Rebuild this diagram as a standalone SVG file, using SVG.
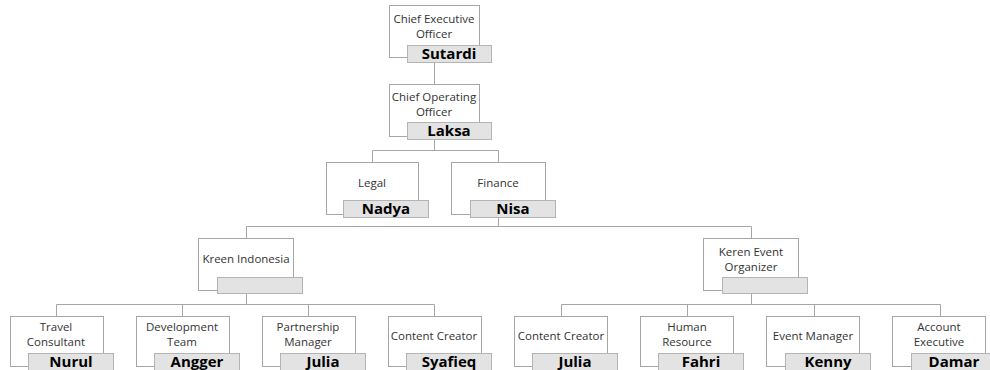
<svg xmlns="http://www.w3.org/2000/svg" width="990" height="370" viewBox="0 0 990 370">
<style>
.box{fill:#fff;stroke:#a6a6a6;stroke-width:1}
.bar{fill:#e3e3e3;stroke:#b4b4b4;stroke-width:1}
.t{font-family:"Open Sans","Liberation Sans",sans-serif;font-size:11.5px;fill:#333;text-anchor:middle}
.n{font-family:"Open Sans","Liberation Sans",sans-serif;font-size:15px;font-weight:bold;fill:#000;text-anchor:middle}
.c{fill:none;stroke:#a6a6a6;stroke-width:1}
</style>
<rect width="990" height="370" fill="#fff"/>
<g id="connectors">
<path class="c" d="M434.5 62V84"/>
<path class="c" d="M434.5 139V150.5M372.5 150.5H498.5M372.5 150.5V162M498.5 150.5V162"/>
<path class="c" d="M498.5 217V226.5M246.5 226.5H751.5M246.5 226.5V238M751.5 226.5V238"/>
<path class="c" d="M246.5 293V304.5M56.5 304.5H434.5M56.5 304.5V316M182.5 304.5V316M308.5 304.5V316M434.5 304.5V316"/>
<path class="c" d="M751.5 293V304.5M561.5 304.5H940.5M561.5 304.5V316M687.5 304.5V316M814.5 304.5V316M940.5 304.5V316"/>
</g>
<g id="ceo">
<rect class="box" x="389.5" y="5.5" width="90" height="52"/>
<rect class="bar" x="407.5" y="45.5" width="84" height="17"/>
<text class="t" x="434" y="23">Chief Executive</text>
<text class="t" x="434" y="38">Officer</text>
<text class="n" x="449" y="59">Sutardi</text>
</g>
<g id="coo">
<rect class="box" x="389.5" y="84.5" width="90" height="52"/>
<rect class="bar" x="407.5" y="122.5" width="84" height="17"/>
<text class="t" x="434" y="101">Chief Operating</text>
<text class="t" x="434" y="116">Officer</text>
<text class="n" x="449" y="136">Laksa</text>
</g>
<g id="legal">
<rect class="box" x="326.5" y="162.5" width="92" height="52"/>
<rect class="bar" x="343.5" y="200.5" width="85" height="17"/>
<text class="t" x="372" y="187">Legal</text>
<text class="n" x="386" y="214">Nadya</text>
</g>
<g id="finance">
<rect class="box" x="451.5" y="162.5" width="94" height="52"/>
<rect class="bar" x="470.5" y="200.5" width="85" height="17"/>
<text class="t" x="498" y="187">Finance</text>
<text class="n" x="513" y="214">Nisa</text>
</g>
<g id="kreen">
<rect class="box" x="198.5" y="238.5" width="95" height="52"/>
<rect class="bar" x="217.5" y="277.5" width="85" height="16"/>
<text class="t" x="246" y="263">Kreen Indonesia</text>
</g>
<g id="keren">
<rect class="box" x="703.5" y="238.5" width="95" height="52"/>
<rect class="bar" x="722.5" y="277.5" width="85" height="16"/>
<text class="t" x="751" y="256">Keren Event</text>
<text class="t" x="751" y="271">Organizer</text>
</g>
<g id="travel">
<rect class="box" x="10.5" y="316.5" width="93" height="50"/>
<rect class="bar" x="28.5" y="353.5" width="85" height="17"/>
<text class="t" x="56" y="331">Travel</text>
<text class="t" x="56" y="346">Consultant</text>
<text class="n" x="71" y="367">Nurul</text>
</g>
<g id="dev">
<rect class="box" x="136.5" y="316.5" width="93" height="50"/>
<rect class="bar" x="154.5" y="353.5" width="85" height="17"/>
<text class="t" x="182" y="331">Development</text>
<text class="t" x="182" y="346">Team</text>
<text class="n" x="197" y="367">Angger</text>
</g>
<g id="partner">
<rect class="box" x="262.5" y="316.5" width="93" height="50"/>
<rect class="bar" x="280.5" y="353.5" width="85" height="17"/>
<text class="t" x="308" y="331">Partnership</text>
<text class="t" x="308" y="346">Manager</text>
<text class="n" x="323" y="367">Julia</text>
</g>
<g id="content1">
<rect class="box" x="388.5" y="316.5" width="93" height="50"/>
<rect class="bar" x="406.5" y="353.5" width="85" height="17"/>
<text class="t" x="434" y="340">Content Creator</text>
<text class="n" x="449" y="367">Syafieq</text>
</g>
<g id="content2">
<rect class="box" x="514.5" y="316.5" width="93" height="50"/>
<rect class="bar" x="532.5" y="353.5" width="85" height="17"/>
<text class="t" x="561" y="340">Content Creator</text>
<text class="n" x="575" y="367">Julia</text>
</g>
<g id="hr">
<rect class="box" x="640.5" y="316.5" width="93" height="50"/>
<rect class="bar" x="658.5" y="353.5" width="85" height="17"/>
<text class="t" x="687" y="331">Human</text>
<text class="t" x="687" y="346">Resource</text>
<text class="n" x="701" y="367">Fahri</text>
</g>
<g id="event">
<rect class="box" x="766.5" y="316.5" width="93" height="50"/>
<rect class="bar" x="785.5" y="353.5" width="85" height="17"/>
<text class="t" x="813" y="340">Event Manager</text>
<text class="n" x="828" y="367">Kenny</text>
</g>
<g id="account">
<rect class="box" x="892.5" y="316.5" width="93" height="50"/>
<rect class="bar" x="911.5" y="353.5" width="85" height="17"/>
<text class="t" x="939" y="331">Account</text>
<text class="t" x="939" y="346">Executive</text>
<text class="n" x="954" y="367">Damar</text>
</g>
</svg>
